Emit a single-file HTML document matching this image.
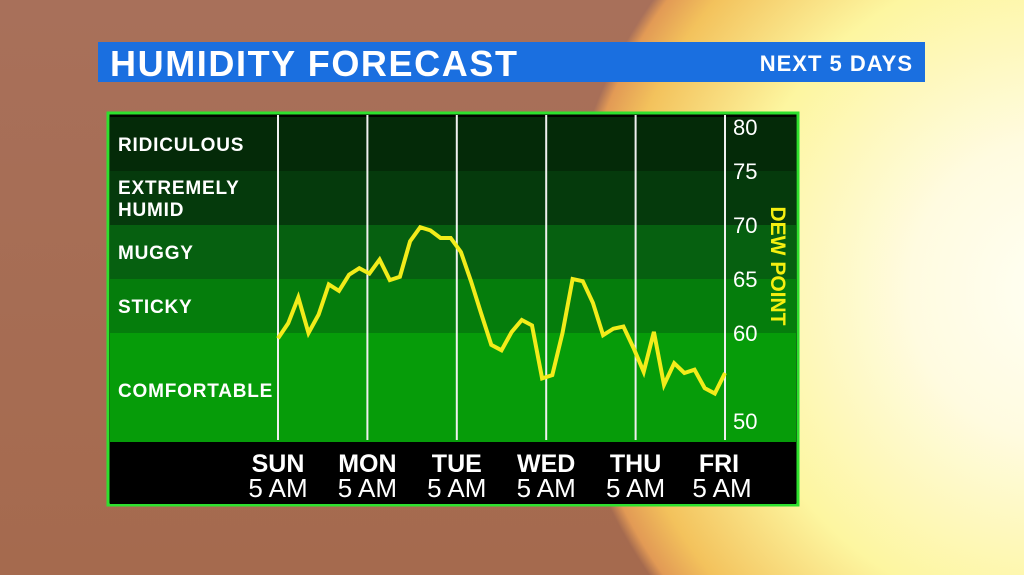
<!DOCTYPE html>
<html><head><meta charset="utf-8">
<style>
html,body{margin:0;padding:0;}
body{width:1024px;height:575px;overflow:hidden;position:relative;font-family:"Liberation Sans",sans-serif;
background:
radial-gradient(circle at 1060px 290px, #fffff4 0px, #fffbe0 150px, #fdf6a0 330px, #f3c25c 450px, #e29a55 488px, rgba(190,120,80,0) 500px),
linear-gradient(180deg,#a8705a 0%,#a56a4e 100%);}
.title{position:absolute;left:98px;top:42px;width:827px;height:40px;background:#1a6fe0;}
.title .t1{position:absolute;left:12px;top:1px;color:#fff;font-weight:bold;font-size:36px;letter-spacing:1.6px;}
.title .t2{position:absolute;right:12px;top:9px;color:#fff;font-weight:bold;font-size:22px;letter-spacing:1px;}
svg{position:absolute;left:0;top:0;}
</style></head><body>
<div class="title">
<span class="t1">HUMIDITY FORECAST</span>
<span class="t2">NEXT 5 DAYS</span>
</div>
<svg id="chart" width="1024" height="575"></svg>
<script>
const dayLabels=["SUN","MON","TUE","WED","THU","FRI"];
const timeLabels=["5 AM","5 AM","5 AM","5 AM","5 AM","5 AM"];
const yTicks=[80,75,70,65,60,50];
const bandNames=["RIDICULOUS","EXTREMELY|HUMID","MUGGY","STICKY","COMFORTABLE"];
const bandTops=[80,75,70,65,60];
const bandBottoms=[75,70,65,60,50];
const dewPoint=[59.5,60.9,63.3,60.0,61.7,64.5,63.9,65.4,66.0,65.5,66.8,64.9,65.2,68.5,69.8,69.5,68.8,68.8,67.5,64.8,61.8,58.9,58.4,60.1,61.2,60.7,55.8,56.1,60.0,65.0,64.8,62.8,59.8,60.4,60.6,58.6,56.4,60.1,55.2,57.2,56.3,56.6,54.9,54.4,56.3];

const NS="http://www.w3.org/2000/svg";
const svg=document.getElementById('chart');
function mk(tag,attrs,parent){const e=document.createElementNS(NS,tag);for(const k in attrs)e.setAttribute(k,attrs[k]);(parent||svg).appendChild(e);return e;}
const plotL=110,plotR=796,plotT=115,plotB=442;
const x0=278,x1=725;
function yScale(v){return 333-(v-60)*10.8;}
function xScale(i){return x0+i*(x1-x0)/(dewPoint.length-1);}
function dayX(d){return x0+d*(x1-x0)/(dayLabels.length-1);}

const frame=mk('rect',{x:108,y:113,width:690,height:392,fill:'#000',stroke:'#2ee02e','stroke-width':3});


const bandColors=["#042a08","#053a0c","#066010","#057d0c","#069c09"];
bandNames.forEach((n,i)=>{
  const yt=Math.max(plotT,yScale(bandTops[i])),yb=i===4?plotB:yScale(bandBottoms[i]);
  const r=mk('rect',{x:plotL,y:yt,width:plotR-plotL,height:yb-yt,fill:bandColors[i]});
  
  
  const parts=n.split('|');
  const cy=i===4?397:(yt+yb)/2+7-(parts.length-1)*11;
  parts.forEach((p,j)=>{
    const t=mk('text',{x:118,y:cy+j*22,fill:'#fff','font-size':19,'font-weight':'bold','letter-spacing':0.8});
    t.textContent=p;
    
    
  });
});
const axisBar=mk('rect',{x:plotL,y:444,width:plotR-plotL,height:60,fill:'#000'});


dayLabels.forEach((d,i)=>{
  const x=dayX(i);
  const l=mk('line',{x1:x,y1:plotT,x2:x,y2:plotB-2,stroke:'#f0f0f0','stroke-width':2});
  
  
  const t=mk('text',{x:i===5?x-6:x,y:472,fill:'#fff','font-size':25,'font-weight':'bold','text-anchor':'middle'});
  t.textContent=d;
  
  
  const t2=mk('text',{x:i===5?x-3:x,y:497,fill:'#fff','font-size':26,'text-anchor':'middle'});
  t2.textContent=timeLabels[i];
  
  
});
yTicks.forEach(v=>{
  const y=v===50?428:yScale(v)+(v===80?22:7);
  const t=mk('text',{x:733,y:v===80?135:y+1,fill:'#fff','font-size':22});
  t.textContent=v;
  
  
});
const yt=mk('text',{x:0,y:0,fill:'#f5ef10','font-size':21,'font-weight':'bold','text-anchor':'middle',transform:'translate(771,266) rotate(90)'});
yt.textContent='DEW POINT';


const pts=dewPoint.map((v,i)=>xScale(i).toFixed(1)+','+yScale(v).toFixed(1)).join(' ');
const line=mk('polyline',{points:pts,fill:'none',stroke:'#f2ec1a','stroke-width':4,'stroke-linejoin':'miter'});


</script>
</body></html>
